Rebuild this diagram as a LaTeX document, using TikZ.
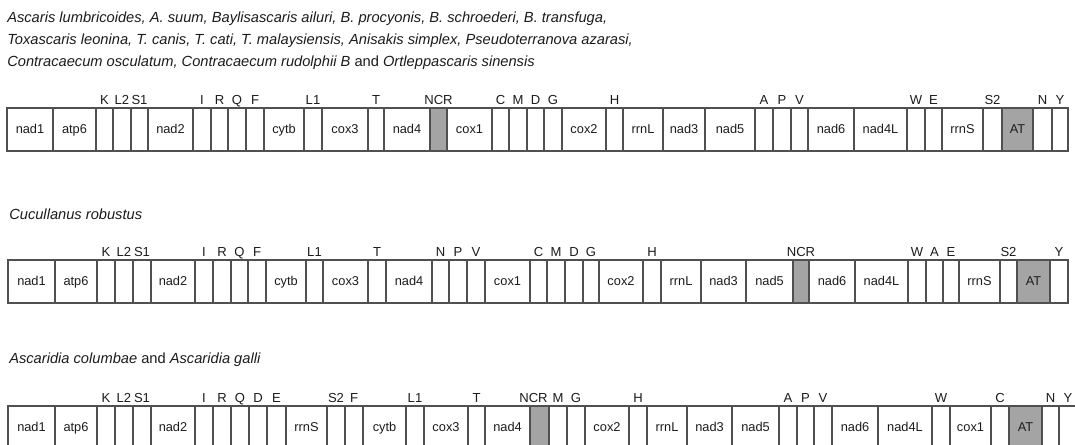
\documentclass[tikz,border=0pt]{standalone}
\usepackage{fontspec}
\setmainfont{Liberation Sans}
\definecolor{boxline}{HTML}{505050}
\definecolor{ncrgray}{HTML}{A4A4A4}
\definecolor{txt}{HTML}{1C1C1C}
\tikzset{
  cell/.style={draw=boxline, line width=0.9pt, fill=white, inner sep=0pt,
    minimum height=32.25pt, text height=6.8pt, text depth=0.8pt,
    font=\fontsize{9.6}{11}\selectfont, text=txt},
  ncr/.style={cell, fill=ncrgray},
  toplab/.style={anchor=base, inner sep=0pt, font=\fontsize{9.8}{11}\selectfont, text=txt},
  title/.style={anchor=base west, inner sep=0pt, font=\fontsize{11}{13}\selectfont, text=txt}
}
% one gene-order row: #1 name prefix, #2 top edge (px), #3 list left/right/inner/upper/style
\newcommand\generow[3]{%
  \foreach \a/\b/\g/\t/\s [count=\i] in {#3} {
    \node[\s, minimum width={(\b-\a)*0.75pt}] (#1c\i) at ({(\a+\b)/2},{#2+21.5}) {\g};
    \node[toplab] (#1t\i) at ({(\a+\b)/2},{#2-4}) {\t};
  }}
\begin{document}
\begin{tikzpicture}[x=0.75pt,y=-0.75pt]
\useasboundingbox (0,0) rectangle (1075,444);
\clip (0,0) rectangle (1075,444);
\fill[white] (0,0) rectangle (1075,444);

% species captions
\node[title] (cap1a) at (7,22.5) {\itshape Ascaris lumbricoides, A. suum, Baylisascaris ailuri, B. procyonis, B. schroederi, B. transfuga,};
\node[title] (cap1b) at (7,44.5) {\itshape Toxascaris leonina, T. canis, T. cati, T. malaysiensis, Anisakis simplex, Pseudoterranova azarasi,};
\node[title] (cap1c) at (7,66.5) {\itshape Contracaecum osculatum, Contracaecum rudolphii B \upshape and \itshape Ortleppascaris sinensis};
\node[title] (cap2) at (9,219) {\itshape Cucullanus robustus};
\node[title] (cap3) at (9,363) {\itshape Ascaridia columbae \upshape and \itshape Ascaridia galli};

% Ascaris-type arrangement
\generow{a}{108}{
 7/53/nad1/{}/cell, 53/96/atp6/{}/cell, 96/113/{}/K/cell, 113/131/{}/L2/cell,
 131/148/{}/S1/cell, 148/193/nad2/{}/cell, 193/211/{}/I/cell, 211/228/{}/R/cell,
 228/246/{}/Q/cell, 246/264/{}/F/cell, 264/304/cytb/{}/cell, 304/322/{}/L1/cell,
 322/368/cox3/{}/cell, 368/384/{}/T/cell, 384/430/nad4/{}/cell, 430/447/{}/NCR/ncr,
 447/492/cox1/{}/cell, 492/509/{}/C/cell, 509/527/{}/M/cell, 527/544/{}/D/cell,
 544/562/{}/G/cell, 562/606/cox2/{}/cell, 606/623/{}/H/cell, 623/663/rrnL/{}/cell,
 663/705/nad3/{}/cell, 705/755/nad5/{}/cell, 755/773/{}/A/cell, 773/791/{}/P/cell,
 791/808/{}/V/cell, 808/854/nad6/{}/cell, 854/907/nad4L/{}/cell, 907/925/{}/W/cell,
 925/942/{}/E/cell, 942/983/rrnS/{}/cell, 983/1002/{}/S2/cell, 1002/1033/AT/{}/ncr,
 1033/1052/{}/N/cell, 1052/1068/{}/Y/cell}

% Cucullanus arrangement
\generow{b}{260}{
 8/55/nad1/{}/cell, 55/97/atp6/{}/cell, 97/115/{}/K/cell, 115/133/{}/L2/cell,
 133/151/{}/S1/cell, 151/195/nad2/{}/cell, 195/213/{}/I/cell, 213/231/{}/R/cell,
 231/248/{}/Q/cell, 248/266/{}/F/cell, 266/306/cytb/{}/cell, 306/323/{}/L1/cell,
 323/368/cox3/{}/cell, 368/386/{}/T/cell, 386/432/nad4/{}/cell, 432/449/{}/N/cell,
 449/467/{}/P/cell, 467/485/{}/V/cell, 485/530/cox1/{}/cell, 530/547/{}/C/cell,
 547/565/{}/M/cell, 565/583/{}/D/cell, 583/599/{}/G/cell, 599/643/cox2/{}/cell,
 643/661/{}/H/cell, 661/701/rrnL/{}/cell, 701/746/nad3/{}/cell, 746/793/nad5/{}/cell,
 793/809/{}/NCR/ncr, 809/855/nad6/{}/cell, 855/908/nad4L/{}/cell, 908/926/{}/W/cell,
 926/943/{}/A/cell, 943/959/{}/E/cell, 959/1000/rrnS/{}/cell, 1000/1017/{}/S2/cell,
 1017/1050/AT/{}/ncr, 1050/1068/{}/Y/cell}

% Ascaridia arrangement
\generow{c}{406}{
 8/55/nad1/{}/cell, 55/97/atp6/{}/cell, 97/115/{}/K/cell, 115/133/{}/L2/cell,
 133/151/{}/S1/cell, 151/195/nad2/{}/cell, 195/213/{}/I/cell, 213/231/{}/R/cell,
 231/249/{}/Q/cell, 249/267/{}/D/cell, 267/286/{}/E/cell, 286/327/rrnS/{}/cell,
 327/345/{}/S2/cell, 345/363/{}/F/cell, 363/406/cytb/{}/cell, 406/424/{}/L1/cell,
 424/468/cox3/{}/cell, 468/485/{}/T/cell, 485/530/nad4/{}/cell, 530/549/{}/{}/ncr,
 549/567/{}/M/cell, 567/585/{}/G/cell, 585/629/cox2/{}/cell, 629/647/{}/H/cell,
 647/687/rrnL/{}/cell, 687/732/nad3/{}/cell, 732/779/nad5/{}/cell, 779/797/{}/A/cell,
 797/814/{}/P/cell, 814/832/{}/V/cell, 832/878/nad6/{}/cell, 878/932/nad4L/{}/cell,
 932/950/{}/W/cell, 950/991/cox1/{}/cell, 991/1009/{}/C/cell, 1009/1042/AT/{}/ncr,
 1042/1059/{}/N/cell, 1059/1077/{}/Y/cell}
% the NCR label here sits left of its box to clear the M label
\node[toplab] (cncr) at (533.5,402) {NCR};
\end{tikzpicture}
\end{document}
